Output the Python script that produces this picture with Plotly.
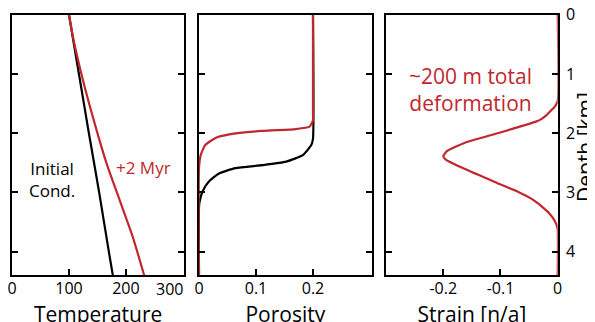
import plotly.graph_objects as go

RED = "#c1272d"
FONT = "Open Sans"

# ---- Temperature panel ----
temp_init_depth = [0, 1.0, 2.0, 3.0, 4.0, 4.4]
temp_initial = [100, 117.5, 135, 153, 170, 177]
temp_2myr_depth = [0, 0.42, 1.1, 1.83, 2.51, 3.13, 3.75, 4.4]
temp_2myr = [100, 108, 124.5, 145, 166, 189, 212, 232]

# ---- Porosity panel ----
phi_init_depth = [0, 2.09, 2.20, 2.37, 2.48, 2.54, 2.59, 2.68, 2.82, 2.99, 3.16, 3.25, 4.4]
phi_init = [0.2, 0.2, 0.197, 0.182, 0.153, 0.111, 0.064, 0.035, 0.017, 0.006, 0.001, 0.0, 0.0]
phi_2myr_depth = [0, 1.69, 1.78, 1.89, 1.93, 1.96, 2.02, 2.08, 2.20, 2.37, 2.59, 4.4]
phi_2myr = [0.2, 0.2, 0.2, 0.194, 0.170, 0.111, 0.053, 0.029, 0.011, 0.003, 0.0, 0.0]

# ---- Strain panel ----
strain_depth = [0, 1.45, 1.55, 1.62, 1.70, 1.77, 1.80, 1.85, 2.0, 2.16, 2.30, 2.39, 2.45, 2.61, 2.84, 3.0, 3.10, 3.18, 3.27, 3.35, 3.45, 3.55, 3.62, 4.4]
strain = [0, 0, -0.005, -0.012, -0.02, -0.03, -0.037, -0.053, -0.105, -0.162, -0.193, -0.2, -0.195, -0.161, -0.106, -0.067, -0.047, -0.035, -0.024, -0.015, -0.007, -0.002, 0, 0]

temp_ticks = [0, 100, 200]
phi_ticks = [0, 0.1, 0.2]
phi_ticktext = ["0", "0.1", "0.2"]
strain_ticks = [-0.2, -0.1, 0]
strain_ticktext = ["-0.2", "-0.1", "0"]
depth_ticks = [0, 1, 2, 3, 4]

W, H = 595, 322
OFF = 8  # page body margin offset
fig = go.Figure()

lw = 2.2
fig.add_trace(go.Scatter(x=temp_initial, y=temp_init_depth, mode="lines",
                         line=dict(color="black", width=lw, shape="spline", smoothing=0.5), xaxis="x", yaxis="y"))
fig.add_trace(go.Scatter(x=temp_2myr, y=temp_2myr_depth, mode="lines",
                         line=dict(color=RED, width=lw, shape="spline", smoothing=0.6), xaxis="x", yaxis="y"))
fig.add_trace(go.Scatter(x=phi_init, y=phi_init_depth, mode="lines",
                         line=dict(color="black", width=lw, shape="spline", smoothing=0.5), xaxis="x2", yaxis="y2"))
fig.add_trace(go.Scatter(x=phi_2myr, y=phi_2myr_depth, mode="lines",
                         line=dict(color=RED, width=lw, shape="spline", smoothing=0.5), xaxis="x2", yaxis="y2"))
fig.add_trace(go.Scatter(x=strain, y=strain_depth, mode="lines",
                         line=dict(color=RED, width=lw, shape="spline", smoothing=0.5), xaxis="x3", yaxis="y3"))

def px_x(p):
    return (p - OFF) / W

def px_y(p):
    return 1 - (p - OFF) / H

common_x = dict(showline=True, linecolor="black", linewidth=2, mirror=True,
                ticks="inside", ticklen=6, tickwidth=2, tickcolor="black",
                showgrid=False, zeroline=False, automargin=False,
                ticklabelstandoff=-3, ticklabeloverflow="allow",
                tickfont=dict(family=FONT, size=16, color="black"),
                title_font=dict(family=FONT, size=21, color="black"),
                title_standoff=10)
common_y = dict(showline=True, linecolor="black", linewidth=2, mirror="ticks",
                ticks="inside", ticklen=6, tickwidth=2, tickcolor="black",
                showgrid=False, zeroline=False, range=[4.4, 0], automargin=False,
                tickvals=depth_ticks, ticklabeloverflow="allow",
                domain=[px_y(275.3), px_y(14.8)],
                tickfont=dict(family=FONT, size=16, color="black"))

fig.update_layout(
    template="none",
    width=W, height=H,
    margin=dict(l=0, r=0, t=0, b=0, pad=0),
    paper_bgcolor="white", plot_bgcolor="white",
    showlegend=False,
    xaxis=dict(common_x, domain=[px_x(12), px_x(184.3)], range=[0, 302.5],
               tickvals=temp_ticks, title_text="Temperature", anchor="y"),
    xaxis2=dict(common_x, domain=[px_x(199), px_x(371.7)], range=[0, 0.303],
                tickvals=phi_ticks, ticktext=phi_ticktext, title_text="Porosity", anchor="y2"),
    xaxis3=dict(common_x, domain=[px_x(386), px_x(557.7)], range=[-0.3, 0],
                tickvals=strain_ticks, ticktext=strain_ticktext, title_text="Strain [n/a]", anchor="y3"),
    yaxis=dict(common_y, anchor="x", showticklabels=False),
    yaxis2=dict(common_y, anchor="x2", showticklabels=False),
    yaxis3=dict(common_y, anchor="x3", side="right", showticklabels=True,
                ticklabelstandoff=3),
    annotations=[
        dict(text="300", x=300, y=4.4, xref="x", yref="y", xanchor="center", yanchor="top",
             xshift=-13, yshift=-1, showarrow=False,
             font=dict(family=FONT, size=16, color="black")),
        dict(text="Initial<br>Cond.", x=70, y=2.78, xref="x", yref="y",
             showarrow=False, font=dict(family=FONT, size=17, color="black")),
        dict(text="+2 Myr", x=231, y=2.58, xref="x", yref="y",
             showarrow=False, font=dict(family=FONT, size=17, color=RED)),
        dict(text="~200 m total<br>deformation", x=-0.153, y=1.27, xref="x3", yref="y3",
             showarrow=False, font=dict(family=FONT, size=21, color=RED)),
        dict(text="Depth [km]", textangle=-90, xref="paper", yref="paper",
             x=px_x(585), y=px_y(147), xanchor="center", yanchor="middle",
             showarrow=False, font=dict(family=FONT, size=21, color="black")),
    ],
)

fig.write_html("out.html")
